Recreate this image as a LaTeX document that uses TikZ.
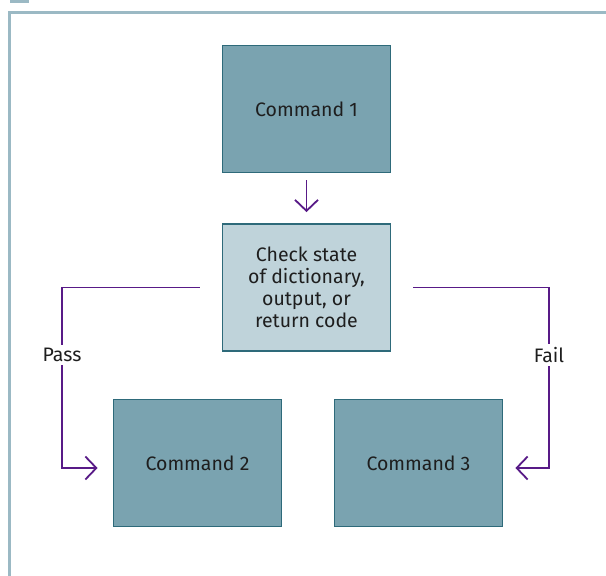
\documentclass[tikz,border=0pt]{standalone}
\usepackage{fontspec}
\setmainfont{Fira Sans}
\usetikzlibrary{arrows.meta}
\definecolor{framec}{RGB}{155,185,196}
\definecolor{boxdark}{RGB}{122,163,176}
\definecolor{boxlight}{RGB}{191,211,218}
\definecolor{boxedge}{RGB}{46,106,122}
\definecolor{flow}{RGB}{88,26,135}
\definecolor{txt}{RGB}{30,30,30}
\tikzset{
  cmdbox/.style={draw=boxedge, line width=1.8pt, fill=boxdark, minimum width=168pt, minimum height=127pt, inner sep=0pt, text=txt, font=\fontsize{19.5}{22}\selectfont, align=center},
  checkbox/.style={cmdbox, fill=boxlight},
  flowline/.style={draw=flow, line width=1.8pt, -{Straight Barb[length=11pt, width=23pt, line width=1.8pt]}},
  lbl/.style={fill=white, text=txt, font=\fontsize{19.5}{22}\selectfont, inner sep=3pt}
}
\begin{document}
\begin{tikzpicture}[x=1pt, y=-1pt]
\useasboundingbox (0,0) rectangle (606,576);
\fill[white] (0,0) rectangle (606,576);
% frame
\fill[framec] (10,0) rectangle (29,3);
\draw[framec, line width=3pt] (9.5,576) -- (9.5,12) -- (606,12);
% boxes
\node[cmdbox] (c1) at (306.5,109) {Command 1};
\node[checkbox] (chk) at (306.5,287.5) {Check state\\of dictionary,\\output, or\\return code};
\node[cmdbox] (c2) at (197.5,463) {Command 2};
\node[cmdbox] (c3) at (418.5,463) {Command 3};
% connectors
\coordinate (dA) at ([yshift=-7pt]c1.south);
\coordinate (dB) at ([yshift=11pt]chk.north);
\draw[flowline] (dA) -- (dB);
\coordinate (pA) at ([xshift=-22pt]chk.west);
\coordinate (pB) at ([xshift=-15pt]c2.west);
\coordinate (pC) at (62,287.5);
\coordinate (pD) at (62,468);
\draw[flowline] (pA) -- (pC) -- (pD) -- (pB |- pD);
\node[lbl] (pass) at (62,355) {Pass};
\coordinate (fA) at ([xshift=22pt]chk.east);
\coordinate (fB) at ([xshift=12pt]c3.east);
\coordinate (fC) at (549,287.5);
\coordinate (fD) at (549,468);
\draw[flowline] (fA) -- (fC) -- (fD) -- (fB |- fD);
\node[lbl] (fail) at (549,355) {Fail};
\end{tikzpicture}
\end{document}
